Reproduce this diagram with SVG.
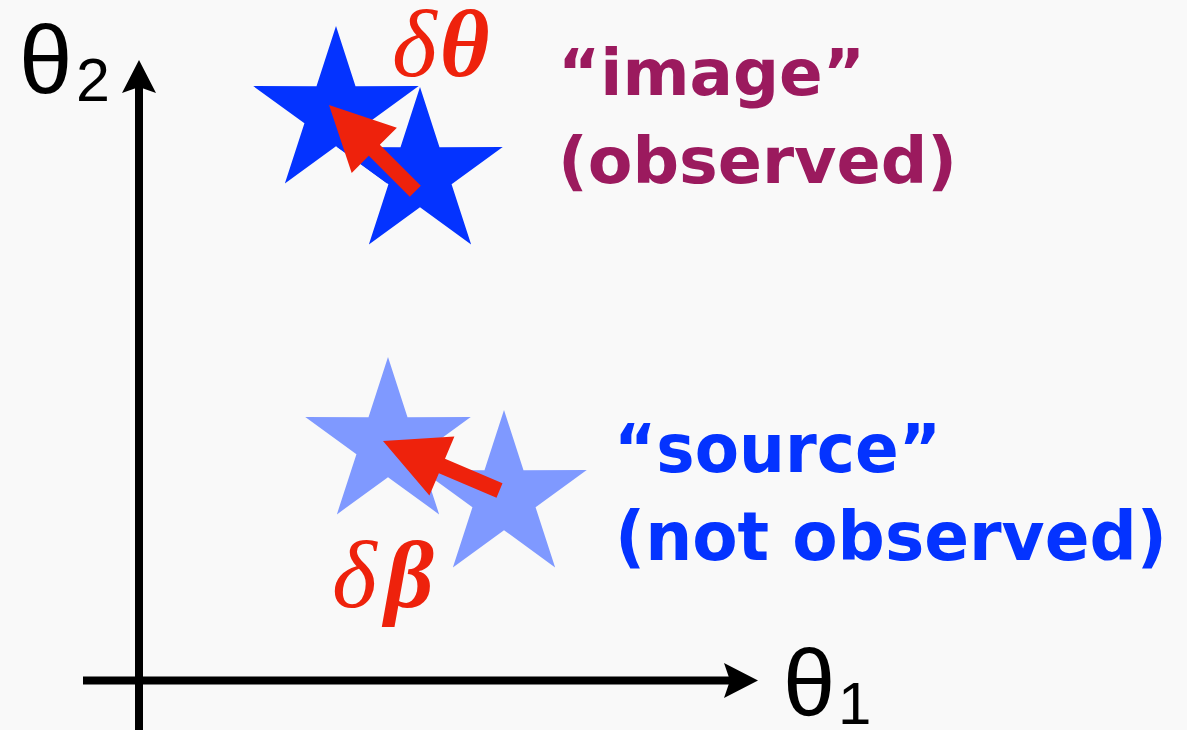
<svg xmlns="http://www.w3.org/2000/svg" width="1187" height="730" viewBox="0 0 1187 730">
<style>
.axis{stroke:#000;stroke-width:8;fill:none}
.head{fill:#000}
.lbl{font-family:"Liberation Sans",Arial,sans-serif;fill:#000}
.red{font-family:"Liberation Serif","Times New Roman",serif;fill:#EE220C;font-size:96px;font-style:italic}
.dark{fill:#0433FF}
.light{fill:#7F99FF}
.arrow{fill:#EE220C}
.img{font-family:"DejaVu Sans",sans-serif;font-weight:bold;fill:#9B1A5E;font-size:64px}
.src{font-family:"DejaVu Sans",sans-serif;font-weight:bold;fill:#0433FF;font-size:67px}
</style>
<defs>
<path id="star" d="M0,-87 L19.51,-26.86 L82.74,-26.88 L31.57,10.26 L51.14,70.38 L0,33.2 L-51.14,70.38 L-31.57,10.26 L-82.74,-26.88 L-19.51,-26.86 Z"/>
</defs>
<rect width="1187" height="730" fill="#F9F9F9"/>
<g id="axes">
<line class="axis" x1="139" y1="730" x2="139" y2="86"/>
<polygon class="head" points="139,60 156,93 139,87 122,93"/>
<line class="axis" x1="83" y1="680.5" x2="732" y2="680.5"/>
<polygon class="head" points="758,680.5 724,663 730,680.5 724,698"/>
</g>
<g id="axis-labels">
<text class="lbl" x="19" y="93" font-size="96">θ</text>
<text class="lbl" x="76" y="101" font-size="61">2</text>
<text class="lbl" x="783" y="716" font-size="94">θ</text>
<text class="lbl" x="838" y="724" font-size="60">1</text>
</g>
<g id="image-stars">
<use href="#star" class="dark" transform="translate(336,113)"/>
<use href="#star" class="dark" transform="translate(420,174)"/>
<polygon class="arrow" points="329,105 396.9,127.7 379.8,144.8 420.8,185.8 409.8,196.8 368.8,155.8 351.7,172.9"/>
</g>
<g id="source-stars">
<use href="#star" class="light" transform="translate(388,444)"/>
<use href="#star" class="light" transform="translate(504,497)"/>
<polygon class="arrow" points="383,441 454.4,436.6 445,458.8 502.5,483.3 496.5,497.7 438.9,473.2 429.4,495.4"/>
</g>
<g id="delta-labels">
<text class="red" x="392" y="76">δ<tspan font-weight="bold" dx="3">θ</tspan></text>
<text class="red" x="332" y="607">δ<tspan font-weight="bold" dx="8">β</tspan></text>
</g>
<g id="image-label">
<text class="img" x="558" y="95" textLength="307" lengthAdjust="spacingAndGlyphs">“image”</text>
<text class="img" x="558" y="183" textLength="399" lengthAdjust="spacingAndGlyphs">(observed)</text>
</g>
<g id="source-label">
<text class="src" x="614" y="472" textLength="327" lengthAdjust="spacingAndGlyphs">“source”</text>
<text class="src" x="615" y="560" textLength="552" lengthAdjust="spacingAndGlyphs">(not observed)</text>
</g>
</svg>
